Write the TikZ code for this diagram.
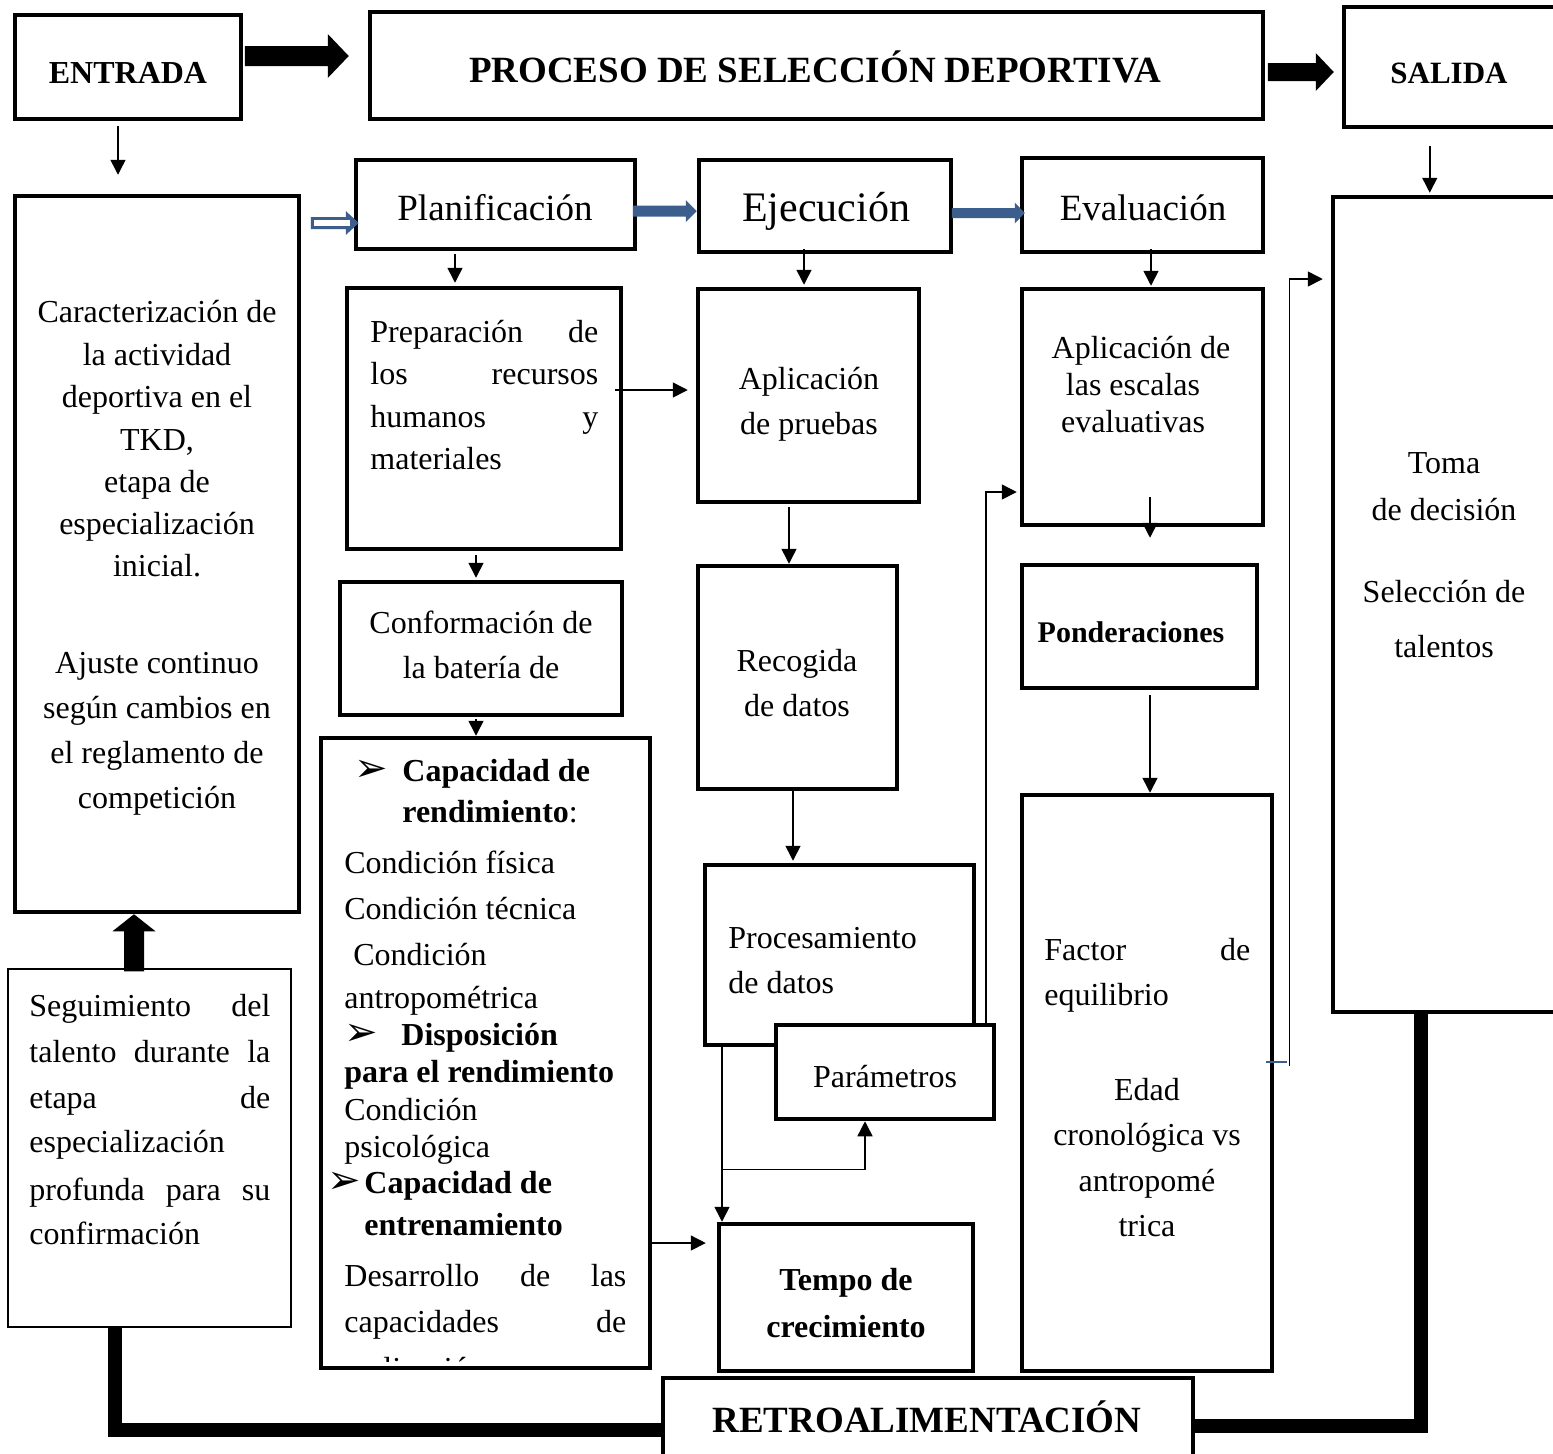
\documentclass[tikz,border=0pt]{standalone}
\usepackage{fontspec}
\setmainfont{Liberation Serif}
\newfontfamily\dejavu{DejaVu Sans}
\usetikzlibrary{arrows.meta,calc,fit}
\definecolor{arrblue}{RGB}{59,94,140}
\newcommand\fsz[1]{\fontsize{#1}{#1}\selectfont}
\begin{document}
\begin{tikzpicture}[x=0.5pt,y=-0.5pt,
  box/.style={draw, line width=2.25pt, inner sep=0pt, fill=white},
  thinbox/.style={draw, line width=0.75pt, inner sep=0pt, fill=white},
  conn/.style={line width=0.75pt, -{Triangle[length=7.5pt,width=7.5pt]}},
  fb/.style={line width=7pt},
  tx/.style={inner sep=0pt, anchor=base, font=\fsz{16}},
  txl/.style={tx, anchor=base west},
  txb/.style={tx, font=\bfseries\fsz{16}},
  txbl/.style={txl, font=\bfseries\fsz{16}},
  bul/.style={inner sep=0pt, anchor=base west, font=\dejavu\fsz{20}},
]
\useasboundingbox (0,0) rectangle (1553,1453);
\clip (0,0) rectangle (1553,1453);

% ---------- boxes ----------
\node[box, fit={(15,15) (241,119)}] (entrada) {};
\node[box, fit={(370,12) (1263,119)}] (proceso) {};
\node[box, fit={(1344,7) (1557,127)}] (salida) {};
\node[box, fit={(15,196) (299,912)}] (caract) {};
\node[box, fit={(356,160) (635,249)}] (plan) {};
\node[box, fit={(699,160) (951,252)}] (ejec) {};
\node[box, fit={(1022,158) (1263,252)}] (evalu) {};
\node[box, fit={(1333,197) (1557,1012)}] (toma) {};
\node[box, fit={(347,288) (621,549)}] (prep) {};
\node[box, fit={(340,582) (622,715)}] (conf) {};
\node[box, fit={(321,738) (650,1368)}] (lista) {};
\node[box, fit={(698,289) (919,502)}] (aplp) {};
\node[box, fit={(698,566) (897,789)}] (recog) {};
\node[box, fit={(705,865) (974,1045)}] (proc) {};
\node[box, fit={(776,1025) (994,1119)}] (param) {};
\node[box, fit={(719,1224) (973,1371)}] (tempo) {};
\node[box, fit={(1022,289) (1263,525)}] (escal) {};
\node[box, fit={(1022,565) (1257,688)}] (pond) {};
\node[box, fit={(1022,795) (1272,1371)}] (factor) {};
\node[thinbox, fit={(8,969) (291,1327)}] (seg) {};
\node[box, fit={(663,1378) (1193,1470)}] (retro) {};

% ---------- feedback loop ----------
\draw[fb] ([xshift=45pt]toma.south west) |- ([yshift=-25pt]retro.north east);
\draw[fb] ([yshift=-27pt]retro.north west) -| ([xshift=-17.25pt]seg.south);
\coordinate (upt) at ([xshift=-11.5pt]caract.south);
\fill (upt) -- +(-21.5,17) -- +(-10,17) -- +(-10,57) -- +(10,57) -- +(10,17) -- +(21.5,17) -- cycle;

% ---------- fat arrows ----------
\coordinate (t1) at ([xshift=-9.5pt,yshift=4.75pt]proceso.west);
\fill (t1) -- +(-21,-22) -- +(-21,-10) -- +(-104,-10) -- +(-104,10) -- +(-21,10) -- +(-21,22) -- cycle;
\coordinate (t2) at ([xshift=-4pt,yshift=-2.5pt]salida.west);
\fill (t2) -- +(-18,-19) -- +(-18,-9) -- +(-66,-9) -- +(-66,9) -- +(-18,9) -- +(-18,19) -- cycle;
\coordinate (t3) at ([yshift=-2.5pt]ejec.west);
\fill[arrblue] (t3) -- +(-11,-11) -- +(-11,-5.5) -- +(-64,-5.5) -- +(-64,5.5) -- +(-11,5.5) -- +(-11,11) -- cycle;
\coordinate (t4) at ([xshift=2.5pt,yshift=-4pt]evalu.west);
\fill[arrblue] (t4) -- +(-10,-10.5) -- +(-10,-5) -- +(-73,-5) -- +(-73,5) -- +(-10,5) -- +(-10,10.5) -- cycle;
\coordinate (t5) at ([xshift=2.5pt,yshift=-9.25pt]plan.west);
\fill[arrblue] (t5) -- +(-13,-12) -- +(-13,-6) -- +(-48,-6) -- +(-48,6) -- +(-13,6) -- +(-13,12) -- cycle;
\fill[white] ($(t5)+(-45,-2.6)$) rectangle ($(t5)+(-9,2.6)$);

% ---------- thin connectors ----------
\coordinate (c1) at ([xshift=-5pt]entrada.south);
\draw[conn, shorten <=2.5pt, shorten >=9.5pt] (c1) -- (c1 |- caract.north);
\coordinate (c2) at ([xshift=-20.25pt]plan.south);
\draw[conn, shorten <=1.5pt, shorten >=1.5pt] (c2) -- (c2 |- prep.north);
\coordinate (c3) at ([xshift=-10.5pt,yshift=2.5pt]ejec.south);
\draw[conn, shorten >=1pt] (c3) -- (c3 |- aplp.north);
\coordinate (c4) at ([xshift=4.25pt,yshift=2.5pt]evalu.south);
\draw[conn, shorten >=0.5pt] (c4) -- (c4 |- escal.north);
\coordinate (c5) at ([xshift=44pt]salida.south west);
\draw[conn, shorten <=8.5pt, shorten >=1pt] (c5) -- (c5 |- toma.north);
\coordinate (c6) at ([xshift=-4pt,yshift=14.25pt]prep.east);
\draw[conn, shorten >=4pt] (c6) -- (c6 -| aplp.west);
\coordinate (c7) at ([xshift=-4pt]prep.south);
\draw[conn, shorten <=2pt, shorten >=1pt] (c7) -- (c7 |- conf.north);
\coordinate (c8) at ([xshift=-2.5pt]conf.south);
\draw[conn, shorten <=1pt] (c8) -- (c8 |- lista.north);
\coordinate (c9) at ([xshift=-9.75pt]aplp.south);
\draw[conn, shorten <=1.5pt] (c9) -- (c9 |- recog.north);
\coordinate (c10) at ([xshift=-2.25pt]recog.south);
\draw[conn, shorten >=1pt] (c10) -- (c10 |- proc.north);
\coordinate (c11) at ([xshift=-58.75pt]proc.south);
\draw[conn] (c11) -- (c11 |- tempo.north);
\coordinate (br) at ([yshift=-61pt]c11);
\draw[conn] (br) -| ([xshift=-10pt]param.south);
\coordinate (c13) at ([yshift=-95pt]lista.east);
\draw[conn, shorten >=5.5pt] (c13) -- (c13 -| tempo.west);
\coordinate (c14) at ([xshift=50.5pt]param.north);
\draw[conn, shorten >=1.5pt] (c14) |- ([yshift=-42.5pt]escal.west);
\coordinate (c15) at ([xshift=3.75pt,yshift=15pt]escal.south);
\draw[conn, shorten >=12.5pt] (c15) -- (c15 |- pond.north);
\coordinate (c16) at ([xshift=5.25pt,yshift=-2.5pt]pond.south);
\draw[conn] (c16) -- (c16 |- factor.north);
\coordinate (c17) at ([xshift=7.5pt,yshift=8.5pt]factor.east);
\draw[conn, shorten >=4pt] (c17) |- ([yshift=162.75pt]toma.west);
\draw[arrblue, line width=0.75pt] ([xshift=-4pt,yshift=10.5pt]factor.east) -- ++(21,0);

% ---------- texts ----------
\node[tx, font=\bfseries\fsz{16}] (tEntrada) at (128,83) {ENTRADA};
\node[tx, font=\bfseries\fsz{18.5}] (tProceso) at (815,82) {PROCESO DE SELECCIÓN DEPORTIVA};
\node[tx, font=\bfseries\fsz{15.5}] (tSalida) at (1449,83) {SALIDA};
\node[tx, font=\fsz{18.5}] (tPlan) at (495,220) {Planificación};
\node[tx, font=\fsz{21}] (tEjec) at (826,221) {Ejecución};
\node[tx, font=\fsz{18.5}] (tEval) at (1143,220) {Evaluación};

\foreach \t/\y [count=\i] in {Caracterización de/322, la actividad/365, deportiva en el/407,
  {TKD,}/450, etapa de/492, especialización/534, inicial./576, Ajuste continuo/673,
  según cambios en/718, el reglamento de/763, competición/808}
  \node[tx] (ca\i) at (157,\y) {\t};

\node[txl] (pr1) at (370,342) {\hbox to 114pt{Preparación\hfill de}};
\node[txl] (pr2) at (370,384) {\hbox to 114pt{los\hfill recursos}};
\node[txl] (pr3) at (370,427) {\hbox to 114pt{humanos\hfill y}};
\node[txl] (pr4) at (370,469) {materiales};

\node[tx] (ap1) at (809,389) {Aplicación};
\node[tx] (ap2) at (809,434) {de pruebas};
\node[tx] (co1) at (481,633) {Conformación de};
\node[tx] (co2) at (481,678) {la batería de};
\node[tx] (re1) at (797,671) {Recogida};
\node[tx] (re2) at (797,716) {de datos};
\node[txl] (pc1) at (728,948) {Procesamiento};
\node[txl] (pc2) at (728,993) {de datos};
\node[tx] (pa1) at (885,1087) {Parámetros};
\node[txb] (te1) at (846,1290) {Tempo de};
\node[txb] (te2) at (846,1337) {crecimiento};

\node[tx] (es1) at (1141,358) {Aplicación de};
\node[tx] (es2) at (1133,395) {las escalas};
\node[tx] (es3) at (1133,432) {evaluativas};
\node[tx, font=\bfseries\fsz{15}] (po1) at (1131,642) {Ponderaciones};

\node[txl] (fa1) at (1044,960) {\hbox to 103pt{Factor\hfill de}};
\node[txl] (fa2) at (1044,1005) {equilibrio};
\node[tx] (fa3) at (1147,1100) {Edad};
\node[tx] (fa4) at (1147,1145) {cronológica vs};
\node[tx] (fa5) at (1147,1191) {antropomé};
\node[tx] (fa6) at (1147,1236) {trica};

\node[tx] (to1) at (1444,473) {Toma};
\node[tx] (to2) at (1444,520) {de decisión};
\node[tx] (to3) at (1444,602) {Selección de};
\node[tx] (to4) at (1444,657) {talentos};

\node[txl] (se1) at (29,1016) {\hbox to 120.5pt{Seguimiento\hfill del}};
\node[txl] (se2) at (29,1062) {\hbox to 120.5pt{talento\hfill durante\hfill la}};
\node[txl] (se3) at (29,1108) {\hbox to 120.5pt{etapa\hfill de}};
\node[txl] (se4) at (29,1152) {especialización};
\node[txl] (se5) at (29,1200) {\hbox to 120.5pt{profunda\hfill para\hfill su}};
\node[txl] (se6) at (29,1244) {confirmación};

\node[tx, font=\bfseries\fsz{18.5}] (tRetro) at (927,1432) {RETROALIMENTACIÓN};

% list box
\node[bul] (b1) at (354,781) {➢};
\node[txbl] (li1) at (402,781) {Capacidad de};
\node[txl] (li2) at (402,822) {\textbf{rendimiento}:};
\node[txl] (li3) at (344,873) {Condición física};
\node[txl] (li4) at (344,919) {Condición técnica};
\node[txl] (li5) at (353,965) {Condición};
\node[txl] (li6) at (344,1008) {antropométrica};
\node[bul] (b2) at (344,1045) {➢};
\node[txbl] (li7) at (401,1045) {Disposición};
\node[txbl] (li8) at (344,1082) {para el rendimiento};
\node[txl] (li9) at (344,1120) {Condición};
\node[txl] (li10) at (344,1157) {psicológica};
\node[bul] (b3) at (327,1193) {➢};
\node[txbl] (li11) at (364,1193) {Capacidad de};
\node[txbl] (li12) at (364,1235) {entrenamiento};
\node[txl] (li13) at (344,1286) {\hbox to 141pt{Desarrollo\hfill de\hfill las}};
\node[txl] (li14) at (344,1332) {\hbox to 141pt{capacidades\hfill de}};
\begin{scope}
\clip (330,1340) rectangle (640,1361);
\node[txl] (li15) at (344,1379) {realización};
\end{scope}
\end{tikzpicture}
\end{document}
